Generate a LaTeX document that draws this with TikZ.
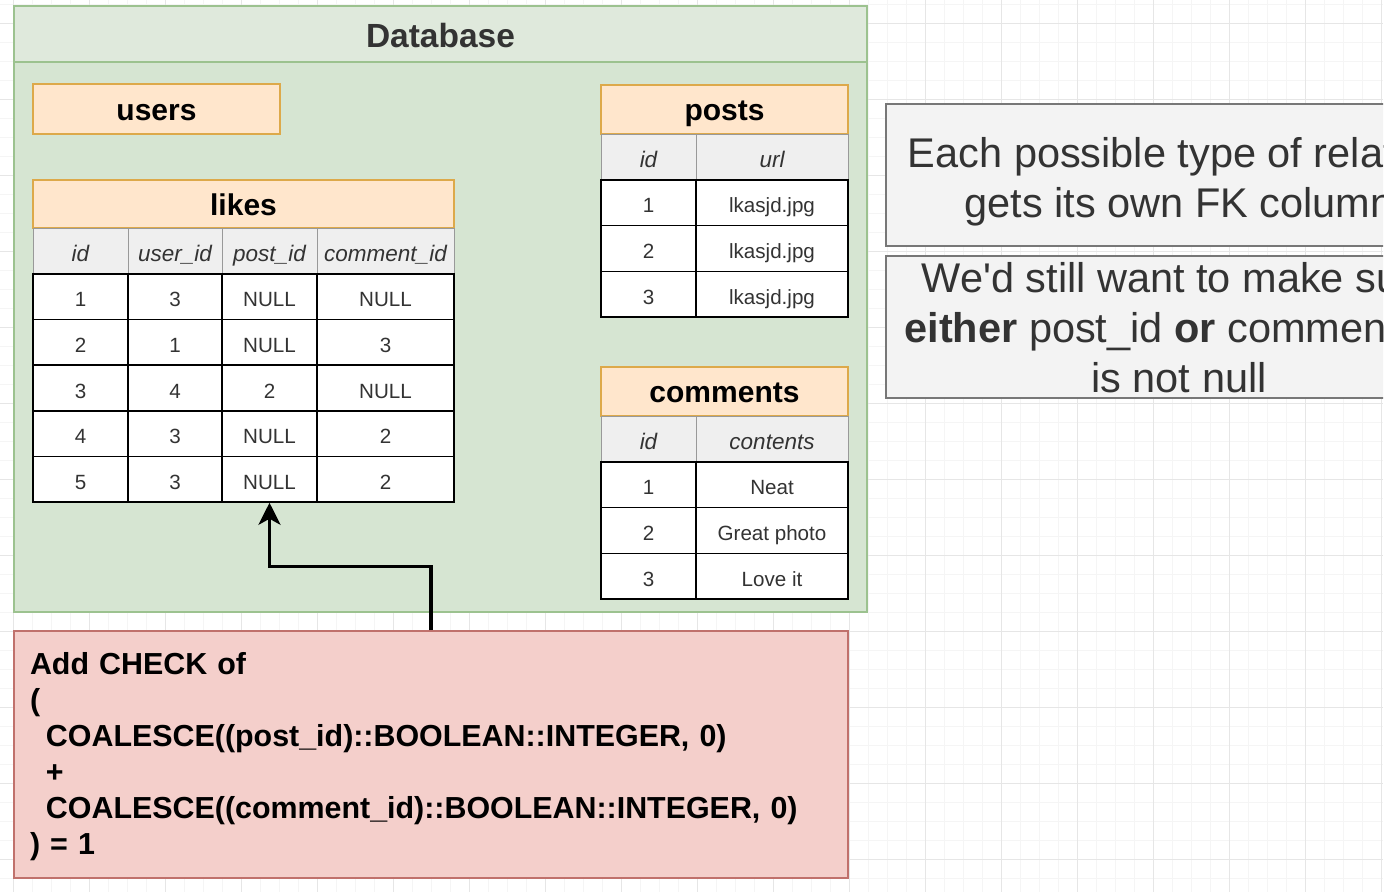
\documentclass[tikz,border=0pt]{standalone}
\usepackage{fontspec}
\setmainfont{Liberation Sans}
\usepackage{tikz}
\usetikzlibrary{positioning, arrows.meta}

\definecolor{dbgreen}{HTML}{D6E5D2}
\definecolor{dbhead}{HTML}{DFE9DC}
\definecolor{dbline}{HTML}{9CC28F}
\definecolor{tborange}{HTML}{FFE6CC}
\definecolor{tbline}{HTML}{DDA94A}
\definecolor{colgray}{HTML}{EFEFEF}
\definecolor{checkred}{HTML}{F4CFCB}
\definecolor{checkline}{HTML}{C0716C}
\definecolor{notegray}{HTML}{F3F3F3}
\definecolor{noteline}{HTML}{777777}
\definecolor{txtgray}{HTML}{333333}
\definecolor{gridminor}{HTML}{F5F5F5}
\definecolor{gridmajor}{HTML}{E6E6E6}

\tikzset{
  tbtitle/.style={draw=tbline, line width=1.5pt, fill=tborange, inner sep=0pt, text height=22pt, text depth=0pt, font=\bfseries\fontsize{30}{36}\selectfont},
  colhead/.style={draw=gray!80, line width=1pt, fill=colgray, inner sep=0pt, minimum height=46pt, text height=20pt, text depth=0pt, text=txtgray, font=\itshape\fontsize{22.5}{27}\selectfont},
  cell/.style={draw=black, line width=1.5pt, fill=white, inner sep=0pt, minimum height=45.6pt, text height=20pt, text depth=0pt, text=txtgray, font=\fontsize{20.6}{25}\selectfont},
  note/.style={draw=noteline, line width=1.5pt, fill=notegray, minimum width=586pt, minimum height=142pt, align=center, text depth=0pt, text=txtgray, font=\fontsize{41.5}{50}\selectfont},
  check/.style={draw=checkline, line width=1.5pt, fill=checkred, minimum height=247pt, text width=802pt, inner xsep=16pt, align=left, text height=27pt, font=\bfseries\fontsize{30.4}{36}\selectfont},
}

\begin{document}
\begin{tikzpicture}[x=1pt, y=-1pt]
  \useasboundingbox[fill=white] (0,0) rectangle (1391,892);

  % canvas grid %
  \foreach \gx in {13,32,...,1383} \draw[gridminor] (\gx,0) -- (\gx,892);
  \foreach \gy in {4,23,...,892} \draw[gridminor] (0,\gy) -- (1383,\gy);
  \foreach \gx in {13,89,...,1383} \draw[gridmajor] (\gx,0) -- (\gx,892);
  \foreach \gy in {23,99,...,892} \draw[gridmajor] (0,\gy) -- (1383,\gy);

  % database %
  \node[draw=dbline, line width=1.5pt, fill=dbgreen, minimum width=853pt, minimum height=606pt, inner sep=0pt] (db) at (440.5,309) {};
  \node[draw=dbline, line width=1.5pt, fill=dbhead, minimum width=853pt, minimum height=56pt, inner sep=0pt, anchor=north, text height=26pt, text depth=0pt, text=txtgray, font=\bfseries\fontsize{33.5}{40}\selectfont] (dbtitle) at (db.north) {Database};

  % users %
  \node[tbtitle, minimum width=247pt, minimum height=50pt] (users) at (156.5,109) {users};

  % likes %
  \node[tbtitle, minimum width=421pt, minimum height=48pt] (likes) at (243.5,204) {likes};
  \node[colhead, minimum width=95pt] (likes-id) at (80.5,251) {id};
  \node[colhead, minimum width=94pt] (likes-user) at (175,251) {user\_id};
  \node[colhead, minimum width=95pt] (likes-post) at (269.5,251) {post\_id};
  \node[colhead, minimum width=137pt] (likes-comment) at (385.5,251) {comment\_id};
  \foreach \a/\b/\c/\d [count=\r] in {1/3/NULL/NULL, 2/1/NULL/3, 3/4/2/NULL, 4/3/NULL/2, 5/3/NULL/2} {
    \node[cell, minimum width=95pt] (likes-\r-id) at (80.5, 251.2+45.6*\r) {\a};
    \node[cell, minimum width=94pt] (likes-\r-user) at (175, 251.2+45.6*\r) {\b};
    \node[cell, minimum width=95pt] (likes-\r-post) at (269.5, 251.2+45.6*\r) {\c};
    \node[cell, minimum width=137pt] (likes-\r-comment) at (385.5, 251.2+45.6*\r) {\d};
  }

  % posts %
  \node[tbtitle, minimum width=247pt, minimum height=49pt] (posts) at (724.5,109.5) {posts};
  \node[colhead, minimum width=95pt] (posts-id) at (648.5,157) {id};
  \node[colhead, minimum width=152pt] (posts-url) at (772,157) {url};
  \foreach \a/\b [count=\r] in {1/lkasjd.jpg, 2/lkasjd.jpg, 3/lkasjd.jpg} {
    \node[cell, minimum width=95pt] (posts-\r-id) at (648.5, 157.17+45.67*\r) {\a};
    \node[cell, minimum width=152pt] (posts-\r-url) at (772, 157.17+45.67*\r) {\b};
  }

  % comments %
  \node[tbtitle, minimum width=247pt, minimum height=49pt] (comments) at (724.5,391.5) {comments};
  \node[colhead, minimum width=95pt] (comments-id) at (648.5,439) {id};
  \node[colhead, minimum width=152pt] (comments-contents) at (772,439) {contents};
  \foreach \a/\b [count=\r] in {1/Neat, 2/Great photo, 3/Love it} {
    \node[cell, minimum width=95pt] (comments-\r-id) at (648.5, 439.17+45.67*\r) {\a};
    \node[cell, minimum width=152pt] (comments-\r-contents) at (772, 439.17+45.67*\r) {\b};
  }

  % check %
  \node[check] (check) at (431,754.5) {Add CHECK of\\
    (\\
    \hspace*{16pt}COALESCE((post\_id)::BOOLEAN::INTEGER, 0)\\
    \hspace*{16pt}+\\
    \hspace*{16pt}COALESCE((comment\_id)::BOOLEAN::INTEGER, 0)\\
    ) = 1};

  % notes %
  \begin{scope}
    \clip (0,0) rectangle (1383,892);
    \node[note, text height=84pt] (fknote) at (1179,175) {Each possible type of relation\\ gets its own FK column};
    \node[note, text height=130pt] (nullnote) at (1179,327) {We\textquotesingle d still want to make sure\\ \textbf{either} post\_id \textbf{or} comment\_id\\ is not null};
  \end{scope}

  % edges %
  \draw[-{Stealth[length=22pt, width=22pt, inset=6pt]}, line width=3.5pt] (check.north) -- ++(0,-64) -| (likes-5-post.south);
\end{tikzpicture}
\end{document}
